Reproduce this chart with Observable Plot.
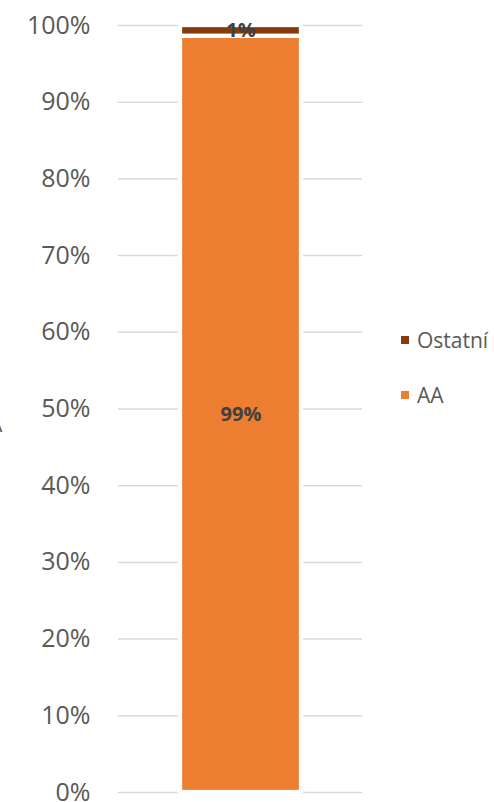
<!DOCTYPE html>
<html>
<head>
<meta charset="utf-8">
<script src="https://cdn.jsdelivr.net/npm/d3@7"></script>
<script src="https://cdn.jsdelivr.net/npm/@observablehq/plot@0.6"></script>
<style>
  html, body { margin: 0; padding: 0; background: #fff; }
  #wrap { position: relative; width: 494px; height: 802px; overflow: hidden; font-family: "Open Sans", sans-serif; }
  #legend { position: absolute; left: 401px; top: 0; }
  .item { position: absolute; left: 0; display: flex; align-items: center; white-space: nowrap; color: #595959; font-size: 21px; }
  .sw { width: 8px; height: 8px; margin-right: 8px; }
  #cut { position: absolute; left: -11px; top: 410px; font-size: 21px; color: #595959; }
</style>
</head>
<body>
<div id="wrap">
  <div id="chart"></div>
  <div id="legend"></div>
  <div id="cut">A</div>
</div>
<script>
const category = "AA";
const series = ["AA", "Ostatní"];
const values = [98.6, 1.4];
const labels = ["99%", "1%"];
const colors = ["#ED7D31", "#843C0C"];
const yTicks = [0, 10, 20, 30, 40, 50, 60, 70, 80, 90, 100];
const legendOrder = ["Ostatní", "AA"];

const data = series.map((s, i) => ({cat: category, series: s, value: values[i], label: labels[i]}));

const chart = Plot.plot({
  width: 494,
  height: 802,
  marginLeft: 118,
  marginRight: 132,
  marginTop: 25,
  marginBottom: 10,
  x: {type: "band", domain: [category], padding: 0.337, axis: null},
  y: {domain: [0, 100], ticks: yTicks, tickFormat: d => d + "%", tickSize: 0, tickPadding: 28, label: null},
  color: {domain: series, range: colors},
  style: {fontFamily: "Open Sans", fontSize: "25px", color: "#595959", background: "#fff"},
  marks: [
    Plot.ruleY(yTicks, {stroke: "#d9d9d9", strokeWidth: 1.5}),
    Plot.barY(data, {x: "cat", y: "value", fill: "series", z: "series", stroke: "white", strokeWidth: 4.3, order: series}),
    Plot.text(data, Plot.stackY({x: "cat", y: "value", z: "series", text: "label", order: series, fill: "#404040", fontWeight: "bold", fontSize: 20}))
  ]
});
document.getElementById("chart").appendChild(chart);

const legendTops = {"Ostatní": 326, "AA": 381};
const legend = document.getElementById("legend");
legendOrder.forEach(s => {
  const item = document.createElement("div");
  item.className = "item";
  item.style.top = legendTops[s] + "px";
  const sw = document.createElement("span");
  sw.className = "sw";
  sw.style.background = colors[series.indexOf(s)];
  const t = document.createElement("span");
  t.textContent = s;
  item.appendChild(sw);
  item.appendChild(t);
  legend.appendChild(item);
});
</script>
</body>
</html>
